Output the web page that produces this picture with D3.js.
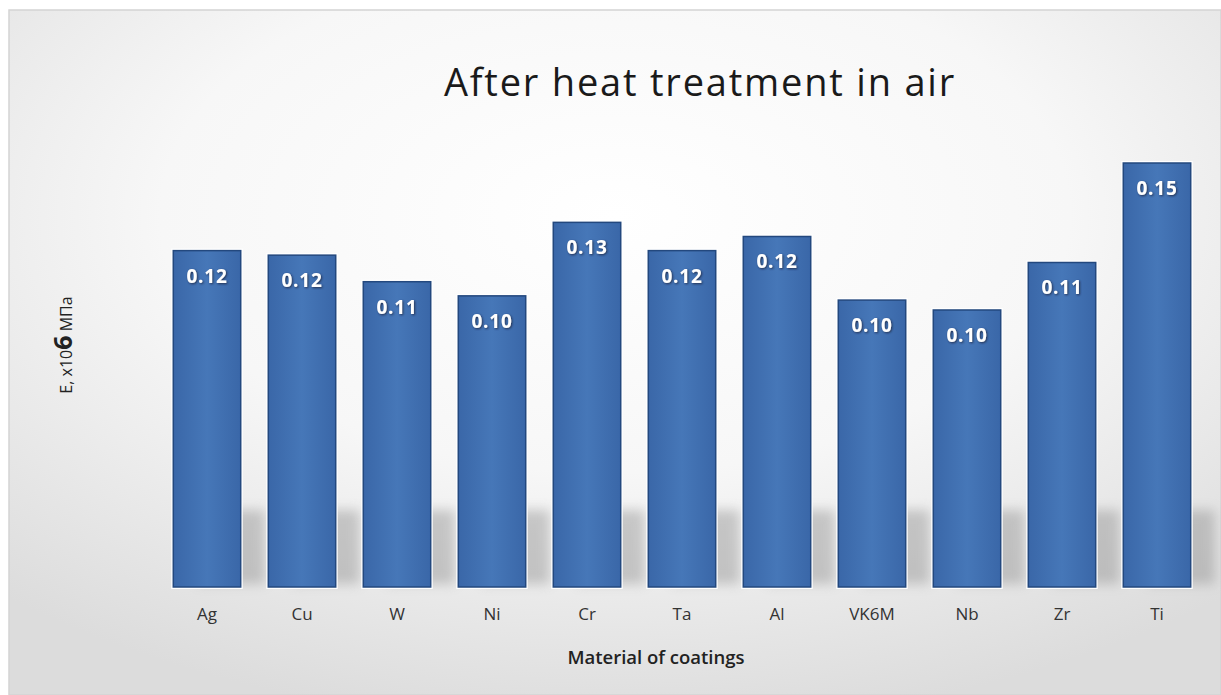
<!DOCTYPE html>
<html><head><meta charset="utf-8">
<script src="https://cdn.jsdelivr.net/npm/d3@7/dist/d3.min.js"></script>
<style>html,body{margin:0;padding:0;background:#fff;}svg{display:block;}</style>
</head><body>
<script>
const categories = ["Ag","Cu","W","Ni","Cr","Ta","Al","VK6M","Nb","Zr","Ti"];
const values = [0.119,0.1174,0.108,0.103,0.129,0.119,0.124,0.1015,0.098,0.1148,0.150];
const titleText = "After heat treatment in air";
const xTitle = "Material of coatings";

const W = 1221, H = 695;
const svg = d3.select("body").append("svg").attr("width", W).attr("height", H);
const defs = svg.append("defs");

const bg = defs.append("radialGradient").attr("id","bg").attr("cx","50%").attr("cy","30%").attr("r","75%");
bg.append("stop").attr("offset","0%").attr("stop-color","#ffffff");
bg.append("stop").attr("offset","50%").attr("stop-color","#f7f7f7");
bg.append("stop").attr("offset","100%").attr("stop-color","#dcdcdc");

const bar = defs.append("linearGradient").attr("id","barg").attr("x1","0").attr("x2","1").attr("y1","0").attr("y2","0");
bar.append("stop").attr("offset","0%").attr("stop-color","#3a67a8");
bar.append("stop").attr("offset","50%").attr("stop-color","#4677b8");
bar.append("stop").attr("offset","100%").attr("stop-color","#3a67a8");

const blur = defs.append("filter").attr("id","blur").attr("x","-50%").attr("y","-50%").attr("width","200%").attr("height","200%");
blur.append("feGaussianBlur").attr("stdDeviation", 6);

const ts = defs.append("filter").attr("id","tshadow").attr("x","-20%").attr("y","-30%").attr("width","140%").attr("height","160%");
ts.append("feDropShadow").attr("dx",1).attr("dy",1).attr("stdDeviation",1).attr("flood-color","#1a2a44").attr("flood-opacity",0.9);

svg.append("rect").attr("x",9).attr("y",10).attr("width",W-9).attr("height",H-10)
  .attr("fill","url(#bg)").attr("stroke","#d4d4d4").attr("stroke-width",1.5);

const x = d3.scaleBand().domain(categories).range([159.5, 1204.5]).paddingInner(0.29).paddingOuter(0.145);
const y = d3.scaleLinear().domain([0, 0.15]).range([587, 163]);

// shadows
svg.append("g").selectAll("rect").data(categories).join("rect")
  .attr("x", d => x(d) + 24).attr("width", x.bandwidth())
  .attr("y", 510).attr("height", 74)
  .attr("fill", "#8a8a8a").attr("opacity", 0.42).attr("filter","url(#blur)");

// white borders
svg.append("g").selectAll("rect").data(categories).join("rect")
  .attr("x", d => x(d) - 2).attr("width", x.bandwidth() + 4)
  .attr("y", (d,i) => y(values[i]) - 2).attr("height", (d,i) => y(0) - y(values[i]) + 4)
  .attr("fill", "#ffffff");

svg.append("g").selectAll("rect").data(categories).join("rect")
  .attr("x", d => x(d)).attr("width", x.bandwidth())
  .attr("y", (d,i) => y(values[i])).attr("height", (d,i) => y(0) - y(values[i]))
  .attr("fill", "url(#barg)").attr("stroke", "#23487e").attr("stroke-width", 1.5);

const fmt = d3.format(".2f");
svg.append("g").selectAll("text").data(categories).join("text")
  .attr("x", d => x(d) + x.bandwidth()/2).attr("y", (d,i) => y(values[i]) + 32)
  .attr("text-anchor","middle").attr("fill","#ffffff")
  .attr("font-family","'Open Sans', sans-serif").attr("font-weight","bold").attr("font-size",19)
  .attr("letter-spacing", 0.8)
  .attr("filter","url(#tshadow)")
  .text((d,i) => fmt(values[i]));

const xAxis = svg.append("g").attr("transform","translate(0,598)")
  .call(d3.axisBottom(x).tickSize(0).tickPadding(10));
xAxis.select(".domain").remove();
xAxis.selectAll("text").attr("font-family","'Open Sans', sans-serif").attr("font-size",17).attr("fill","#333");

svg.append("text").attr("x", 700).attr("y", 96).attr("text-anchor","middle")
  .attr("font-family","'Open Sans', sans-serif").attr("font-size",38).attr("fill","#1a1a1a")
  .attr("letter-spacing", 1.8)
  .text(titleText);

svg.append("text").attr("x", 656).attr("y", 664).attr("text-anchor","middle")
  .attr("font-family","'Open Sans', sans-serif").attr("font-size",18.5).attr("font-weight",600).attr("fill","#222")
  .text(xTitle);

const yl = svg.append("text").attr("transform","translate(72,345) rotate(-90)").attr("text-anchor","middle")
  .attr("font-family","'Open Sans', sans-serif").attr("font-size",16).attr("fill","#222");
yl.append("tspan").text("E, x10");
yl.append("tspan").attr("font-size",25).attr("font-weight","bold").text("6");
yl.append("tspan").text(" МПа");
</script>
</body></html>
